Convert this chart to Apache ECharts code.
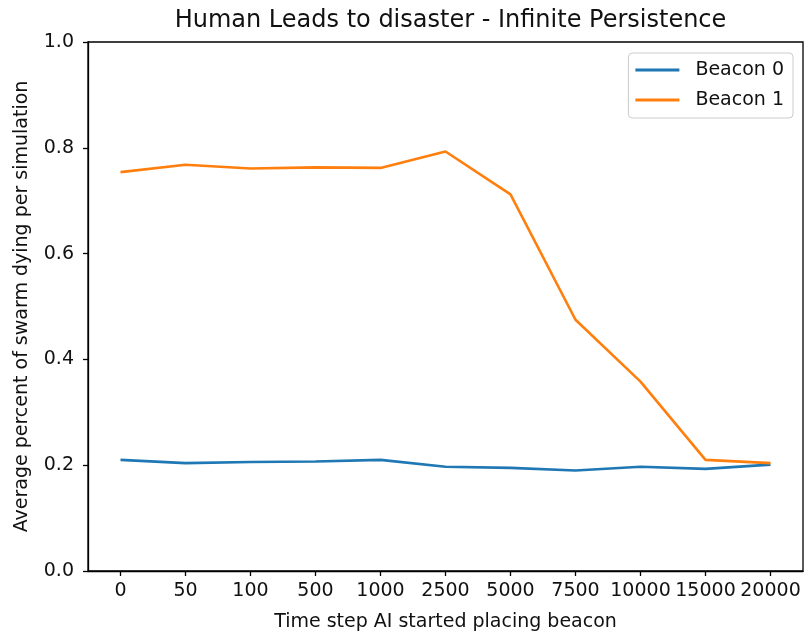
<!DOCTYPE html>
<html>
<head>
<meta charset="utf-8">
<script src="https://cdn.jsdelivr.net/npm/echarts@6/dist/echarts.min.js"></script>
<style>
html,body{margin:0;padding:0;background:#fff;}
#chart{width:804px;height:637px;}
</style>
</head>
<body>
<div id="chart"></div>
<script>
const categories = ['0','50','100','500','1000','2500','5000','7500','10000','15000','20000'];
const beacon0 = [0.210, 0.204, 0.206, 0.207, 0.210, 0.197, 0.195, 0.190, 0.197, 0.193, 0.201];
const beacon1 = [0.754, 0.768, 0.761, 0.763, 0.762, 0.793, 0.712, 0.475, 0.358, 0.210, 0.204];
const yTicks = [0.0, 0.2, 0.4, 0.6, 0.8, 1.0];

const FONT = 'DejaVu Sans';
const chart = echarts.init(document.getElementById('chart'), null, {renderer: 'canvas'});
chart.setOption({
  animation: false,
  backgroundColor: '#fff',
  title: {
    text: 'Human Leads to disaster - Infinite Persistence',
    left: 445.5, top: 4, textAlign: 'center',
    textStyle: {fontFamily: FONT, fontSize: 24, fontWeight: 'normal', color: '#111'}
  },
  legend: {
    orient: 'vertical', right: 11, top: 53,
    padding: [7, 9, 8, 7],
    borderColor: '#cccccc', borderWidth: 1, borderRadius: 4,
    backgroundColor: 'rgba(255,255,255,0.8)',
    itemWidth: 44, itemHeight: 3, itemGap: 10,
    icon: 'rect',
    textStyle: {fontFamily: FONT, fontSize: 19, color: '#111', lineHeight: 20, padding: [0, 0, 0, 11]},
    data: ['Beacon 0', 'Beacon 1']
  },
  grid: {
    left: 88, right: 1, top: 42, bottom: 65,
    show: true, borderColor: '#000', borderWidth: 1.3, backgroundColor: 'transparent'
  },
  xAxis: {
    type: 'category', data: categories, boundaryGap: true,
    name: 'Time step AI started placing beacon', nameLocation: 'middle', nameGap: 42,
    nameTextStyle: {fontFamily: FONT, fontSize: 19, color: '#111'},
    axisLine: {lineStyle: {color: '#000', width: 1.3}},
    axisTick: {show: true, alignWithLabel: true, interval: 0, length: 5, lineStyle: {color: '#000', width: 1.3}},
    axisLabel: {interval: 0, margin: 11, fontFamily: FONT, fontSize: 19, color: '#111'},
    splitLine: {show: false}
  },
  yAxis: {
    type: 'value', min: 0, max: 1, interval: 0.2,
    name: 'Average percent of swarm dying per simulation', nameLocation: 'middle', nameGap: 56,
    nameTextStyle: {fontFamily: FONT, fontSize: 19, color: '#111'},
    axisLine: {show: true, lineStyle: {color: '#000', width: 1.3}},
    axisTick: {show: true, length: 5, lineStyle: {color: '#000', width: 1.3}},
    axisLabel: {margin: 14, fontFamily: FONT, fontSize: 19, color: '#111',
      formatter: v => (yTicks.some(t => Math.abs(t - v) < 1e-9) ? v.toFixed(1) : '')},
    splitLine: {show: false}
  },
  series: [
    {name: 'Beacon 0', type: 'line', data: beacon0, symbol: 'none', color: '#1f77b4',
     lineStyle: {width: 2.6, color: '#1f77b4'}},
    {name: 'Beacon 1', type: 'line', data: beacon1, symbol: 'none', color: '#ff7f0e',
     lineStyle: {width: 2.6, color: '#ff7f0e'}}
  ]
});
</script>
</body>
</html>
